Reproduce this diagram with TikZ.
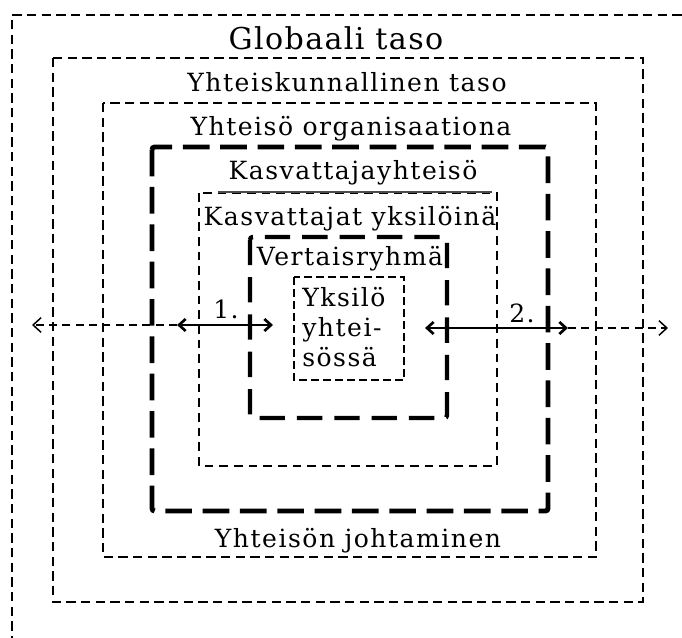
\documentclass[tikz,border=0pt]{standalone}
\usepackage{fontspec}
\setmainfont{DejaVu Serif}[LetterSpace=6]
\usetikzlibrary{arrows.meta}

\begin{document}
\begin{tikzpicture}[x=0.75pt,y=-0.75pt,
                    level text/.style={anchor=base,inner sep=0pt,font=\fontsize{18.8}{22.5}\selectfont},
                    thin box/.style={line width=1.5pt,dash pattern=on 7pt off 4pt},
                    fine box/.style={line width=1.3pt,dash pattern=on 6.5pt off 4.5pt},
                    heavy box/.style={line width=3.7pt,dash pattern=on 20pt off 8pt,rounded corners=2pt},
                    inner arrow/.style={line width=1.4pt,{Straight Barb[length=5pt,width=9pt,line width=2pt]}-{Straight Barb[length=5pt,width=9pt,line width=2pt]}},
                    outer arrow/.style={line width=1.1pt,dash pattern=on 6pt off 4pt,-{Straight Barb[length=6pt,width=11pt]}}]

       \useasboundingbox (0,0) rectangle (682,638);

       \draw[thin box] (12,660) -- (12,15) -- (700,15);
       \draw[thin box] (53,58) rectangle (643,602);
       \draw[thin box] (103,103) rectangle (596,557);
       \draw[heavy box] (152,147) rectangle (548,511);
       \draw[fine box] (199,193) rectangle (497,466);
       \draw[black!70,line width=1.2pt] (218,192) -- (492,192);
       \draw[heavy box,line width=3.3pt,dash pattern=on 19pt off 9pt] (250,237) rectangle (447,418);
       \draw[thin box,dash pattern=on 6pt off 3pt] (294,277) rectangle (404,380);

       \node[level text,font=\fontsize{22.6}{27}\selectfont\addfontfeature{LetterSpace=4.5}] (global) at (336,50) {Globaali taso};
       \node[level text] (society) at (347,92) {Yhteiskunnallinen taso};
       \node[level text] (organisation) at (351,136) {Yhteisö organisaationa};
       \node[level text] (educators) at (353,180) {Kasvattajayhteisö};
       \node[level text] (individuals) at (350,225) {Kasvattajat yksilöinä};
       \node[level text] (peers) at (350,265) {Vertaisryhmä};
       \node[level text,anchor=north west,align=left] (self) at (302,287) {Yksilö\\yhtei-\\sössä};
       \node[level text] (one) at (226,318) {1.};
       \node[level text] (two) at (522,322) {2.};
       \node[level text] (leading) at (358,547) {Yhteisön johtaminen};

       \coordinate (left out) at (32,325);
       \coordinate (left mid) at (177,325);
       \coordinate (left in) at (273,325);
       \coordinate (right in) at (425,328);
       \coordinate (right mid) at (568,328);
       \coordinate (right out) at (668,328);

       \path (left mid) edge [outer arrow] (left out)
                        edge [inner arrow] (left in)
             (right mid) edge [outer arrow] (right out)
                         edge [inner arrow] (right in);

\end{tikzpicture}
\end{document}
